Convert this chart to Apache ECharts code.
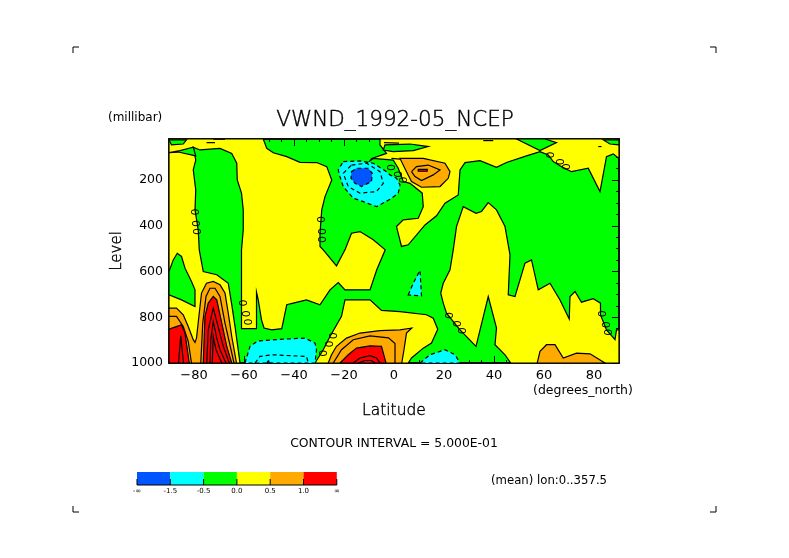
<!DOCTYPE html>
<html>
<head>
<meta charset="utf-8">
<title>VWND_1992-05_NCEP</title>
<script src="https://cdn.jsdelivr.net/npm/echarts@6/dist/echarts.min.js"></script>
<style>
html, body { margin: 0; background: #fff; }
#chart { width: 789px; height: 558px; }
</style>
</head>
<body>
<div id="chart"></div>
<script>
// contour regions, every point is [latitude, level in mb]
const yellowBands = [
    [[-90,20],[-52.3,20],[-50.9,61],[-48.3,80],[-42.9,97],[-37.6,122],[-30.9,123],[-26.9,141],[-24.9,199],[-27.6,272],[-28.9,330],[-29.6,432],[-29.6,490],[-28.3,505],[-23,575],[-19.6,505],[-17,432],[-13.6,425],[-8.3,461],[-3.5,505],[-6.9,592],[-9.6,680],[-19.6,680],[-22.3,648],[-25.6,680],[-29.6,745],[-35,724],[-40.3,738],[-42.9,745],[-44.9,850],[-48.9,855],[-52,847],[-53,811],[-54.3,724],[-55,690],[-55,850],[-61,850],[-61,505],[-60.3,418],[-60.3,330],[-61,257],[-62.7,199],[-62.9,126],[-64.9,83],[-69.6,61],[-77.6,68],[-80.3,56],[-79.3,112],[-80.3,155],[-79.3,243],[-79.6,330],[-78.3,418],[-77.9,505],[-76.3,600],[-70.9,614],[-66.3,651],[-64.9,745],[-63.6,840],[-61.6,1000],[-90,1000]],
    [[-31.6,1000],[-28.3,942],[-25.6,884],[-21,796],[-19.6,724],[-9.6,724],[-5,770],[2.4,775],[13,789],[15.7,804],[17.5,852],[15,913],[11.7,935],[7,978],[5.7,1000]],
    [[-5.6,20],[90,20],[90,105],[87.7,85],[85,97],[82.4,250],[77.7,148],[71,163],[67,141],[63.7,119],[61.7,90],[58.4,75],[53,94],[45,123],[41,144],[34.4,115],[28.4,123],[26.4,155],[25.7,265],[20.4,301],[17,356],[12.4,396],[5.7,483],[3,490],[1,403],[3.7,374],[9.7,367],[11.7,316],[11.3,257],[6.4,214],[3.7,206],[1.7,148],[-0.3,112],[-8.3,105],[-9.6,115],[-8.9,105],[-3,83],[-5.6,46]],
    [[23.7,505],[25,403],[27.7,316],[32.8,345],[35,337],[37.7,298],[41,330],[44.4,403],[46.4,527],[45.7,702],[48.4,709],[52.4,563],[55,549],[57.7,680],[62.4,651],[66.4,724],[70.1,808],[70.4,709],[72.4,687],[75,734],[79.7,719],[82.6,738],[82.6,789],[85,855],[88.4,898],[89,855],[90,855],[90,1000],[46.7,1000],[44.4,964],[40.4,920],[41,847],[37.7,709],[32.8,927],[26.4,855],[21,782],[19.7,738],[18.7,694],[19.7,651],[22.4,592]]
];
const greenBands = [
    [[-90,24],[-83,24],[-84.3,42],[-89,46]],
    [[-90,80],[-85.6,71],[-80.3,56],[-79.3,94],[-86.3,77]],
    [[-90,600],[-88.3,549],[-86.7,520],[-85,534],[-83.6,585],[-81,643],[-79.6,680],[-79.6,753],[-85,724],[-90,702]],
    [[-3.6,46],[6.4,42],[13.7,53],[7.7,71],[-0.3,75],[-4.3,68]],
    [[49,20],[58.4,71],[65,36],[60.4,20]],
    [[83.7,24],[90,24],[90,46],[86.4,42]]
];
const orangeBands = [
    [[-90,760],[-87,760],[-84.3,789],[-82.3,840],[-80.3,898],[-79.6,910],[-79,891],[-77,694],[-75,651],[-72.3,643],[-69.6,658],[-67.6,694],[-66.3,782],[-64.9,884],[-63,1000],[-90,1000]],
    [[-26.3,1000],[-25,964],[-23,927],[-19,891],[-13.6,869],[-5.6,858],[2.4,855],[7.1,847],[5,869],[4,942],[3.1,1000]],
    [[2.4,105],[5,105],[11.7,105],[20.4,126],[22.4,163],[21.7,192],[18.4,228],[11,231],[7,206],[5,163]],
    [[57.3,1000],[58.4,949],[61,920],[64.4,920],[67.7,978],[73,957],[78.4,960],[84.4,1000]]
];
const redBands = [
    [[-90,852],[-85,833],[-83.6,869],[-81.9,1000],[-90,1000]],
    [[-76.3,1000],[-75.6,796],[-74.3,738],[-72.3,709],[-70.9,724],[-69.6,789],[-66.9,927],[-64.9,1000]],
    [[-21.6,1000],[-18.3,964],[-15,935],[-9.6,925],[-5,927],[-3.2,1000]],
    [[9.7,153],[13.3,153],[13.3,161],[9.7,161]]
];
const cyanBands = [
    [[-20.3,119],[-13.6,116],[-8.3,126],[-3,163],[-1.6,177],[1,192],[2.4,221],[1.7,257],[-1.6,284],[-7,316],[-12.3,294],[-16.3,279],[-20.3,228],[-21.6,185],[-22.3,155]],
    [[-59.6,1000],[-57.6,927],[-54.3,903],[-43,895],[-35.6,891],[-31.6,913],[-31,942],[-31.6,1000]],
    [[10.4,1000],[14.4,964],[20.4,942],[24.4,964],[26.4,1000]],
    [[5.7,702],[7.7,651],[10.4,595],[11,706]]
];
const blueBands = [
    [[-17,163],[-15,148],[-10.3,148],[-8.7,170],[-9,206],[-13,228],[-15.6,214],[-17.2,192]],
    [[-50.9,1000],[-50.3,990],[-48.9,1000]]
];
// extra contour lines that sit inside a filled band
const solidContours = [
    [[-77.3,1000],[-76.5,826],[-75.2,709],[-73.6,673],[-71.6,673],[-69.6,709],[-67.6,826],[-64,1000]],
    [[-74.9,1000],[-74.3,855],[-72.3,760],[-70.7,826],[-68.3,927],[-65.9,1000]],
    [[-73.6,1000],[-73.3,898],[-72.3,818],[-70.9,891],[-69.6,942],[-67.2,1000]],
    [[-72.7,1000],[-72.3,884],[-71.2,942],[-68.9,1000]],
    [[-90,796],[-87,796],[-84.3,840],[-82.3,906],[-81,1000]],
    [[-86.2,1000],[-85.3,881],[-84.2,1000]],
    [[-24.3,1000],[-21,942],[-16.3,898],[-9.6,881],[-2.2,890],[0.4,915],[0.4,1000]],
    [[-16.3,1000],[-13.6,978],[-9.6,968],[-7,978],[-5.6,1000]],
    [[-14.3,1000],[-11.6,989],[-9,989],[-7.6,1000]],
    [[7,163],[9,141],[13.7,134],[18.4,155],[15.7,177],[11,202],[8.4,184],[7,163]],
    [[-75,36],[-71.6,36]],
    [[-72.3,21],[-67.6,21]],
    [[35.7,27],[39.7,27]],
    [[81.7,53],[83,53]],
    [[-4,36],[2,38]],
    [[-1,105],[2.4,108]]
];
const dashedContours = [
    [[-17,134],[-11,126],[-5.6,163],[-4.3,214],[-7,250],[-13.6,257],[-18.3,228],[-20.3,170],[-17,134]],
    [[-55.6,1000],[-53.6,971],[-48.3,964],[-41.6,968],[-35,971],[-34.3,1000]]
];
const zeroLabels = [
    [-79.2,339],[-78.7,390],[-78.3,425],
    [-28.7,372],[-28.5,425],[-28.3,460],
    [-59.9,738],[-58.7,785],[-57.9,821],
    [-27.9,957],[-25.6,917],[-24,881],
    [-0.7,145],[2,174],[4,199],
    [63,90],[66.7,119],[69.3,141],
    [22.4,792],[25.7,828],[27.5,859],
    [83.7,785],[85.3,833],[86.1,866]
];

const latMajor = [-80, -60, -40, -20, 0, 20, 40, 60, 80];
const levelMajor = [200, 400, 600, 800, 1000];
const latMinor = [-85, -75, -70, -65, -55, -50, -45, -35, -30, -25, -15, -10, -5, 5, 10, 15, 25, 30, 35, 45, 50, 55, 65, 70, 75, 85];
const levelMinor = [50, 100, 150, 250, 300, 350, 450, 500, 550, 650, 700, 750, 850, 900, 950];

const legendColors = ['#0055ff', '#00ffff', '#00ff00', '#ffff00', '#ffaa00', '#ff0000'];
const legendLabels = ['-\u221e', '-1.5', '-0.5', '0.0', '0.5', '1.0', '\u221e'];

const FONT = 'DejaVu Sans';
const BLUE = legendColors[0], CYAN = legendColors[1], GREEN = legendColors[2];
const YELLOW = legendColors[3], ORANGE = legendColors[4], RED = legendColors[5];

function band(rings, color, dashed) {
    return rings.map(function (ring) {
        return { ring: ring, fill: color, dashed: !!dashed };
    });
}

// paint order matters, later bands cover earlier ones. green is the grid background
const regions = [].concat(
    band(yellowBands, YELLOW),
    band(greenBands, GREEN),
    band(orangeBands, ORANGE),
    band(redBands, RED),
    band(cyanBands, CYAN, true),
    band(blueBands, BLUE, true)
);
const lines = [].concat(
    solidContours.map(function (l) { return { ring: l, dashed: false }; }),
    dashedContours.map(function (l) { return { ring: l, dashed: true }; })
);

function indexes(list) {
    return list.map(function (d, i) { return [i]; });
}

function renderRegion(params, api) {
    const r = regions[api.value(0)];
    return {
        type: 'polygon',
        shape: { points: r.ring.map(function (p) { return api.coord(p); }) },
        style: { fill: r.fill, stroke: '#000', lineWidth: 1.2, lineDash: r.dashed ? [4, 3] : null }
    };
}

function renderLine(params, api) {
    const l = lines[api.value(0)];
    return {
        type: 'polyline',
        shape: { points: l.ring.map(function (p) { return api.coord(p); }) },
        style: { fill: 'none', stroke: '#000', lineWidth: 1.2, lineDash: l.dashed ? [4, 3] : null }
    };
}

function renderZero(params, api) {
    const c = api.coord([api.value(0), api.value(1)]);
    return {
        type: 'text',
        x: c[0],
        y: c[1],
        rotation: Math.PI / 2,
        style: { text: '0', fill: '#000', font: '11px "' + FONT + '"', align: 'center', verticalAlign: 'middle' }
    };
}

function latAxis(position, values, len, extra) {
    return Object.assign({
        type: 'value',
        position: position,
        min: -90,
        max: 90,
        splitLine: { show: false },
        axisLine: { show: true, onZero: false, lineStyle: { color: '#000', width: 1.5 } },
        axisTick: { show: true, inside: true, length: len, customValues: values, lineStyle: { color: '#000' } },
        axisLabel: { show: false }
    }, extra || {});
}

function levelAxis(position, values, len, extra) {
    return Object.assign({
        type: 'value',
        position: position,
        inverse: true,
        min: 20,
        max: 1000,
        splitLine: { show: false },
        axisLine: { show: true, onZero: false, lineStyle: { color: '#000', width: 1.5 } },
        axisTick: { show: true, inside: true, length: len, customValues: values, lineStyle: { color: '#000' } },
        axisLabel: { show: false }
    }, extra || {});
}

function pageText(x, y, text, size, align) {
    return {
        type: 'text',
        x: x,
        y: y,
        style: { text: text, fill: '#000', font: size + 'px "' + FONT + '"', align: align || 'left', verticalAlign: 'middle' }
    };
}

function cropMark(x, y, dx, dy) {
    return {
        type: 'polyline',
        shape: { points: [[x + dx, y], [x, y], [x, y + dy]] },
        style: { fill: 'none', stroke: '#000', lineWidth: 1 }
    };
}

// thin black look for the bigger text
function thinText(size) {
    return { color: '#000', fontFamily: FONT, fontWeight: 'lighter', fontSize: size, textBorderColor: '#000', textBorderWidth: 0.4 };
}

// colour key under the plot
const keyLeft = 137, keyTop = 472, keyCell = 33.3, keyHeight = 13;
const keyItems = [];
legendColors.forEach(function (c, i) {
    keyItems.push({
        type: 'rect',
        shape: { x: keyLeft + i * keyCell, y: keyTop, width: keyCell, height: keyHeight },
        style: { fill: c }
    });
});
keyItems.push({
    type: 'line',
    shape: { x1: keyLeft, y1: keyTop + keyHeight, x2: keyLeft + 6 * keyCell, y2: keyTop + keyHeight },
    style: { stroke: '#000', lineWidth: 1 }
});
legendLabels.forEach(function (t, i) {
    const x = keyLeft + i * keyCell;
    keyItems.push({
        type: 'line',
        shape: { x1: x, y1: keyTop + keyHeight - 6, x2: x, y2: keyTop + keyHeight },
        style: { stroke: '#000', lineWidth: 1 }
    });
    keyItems.push(pageText(x, keyTop + 19, t, 7, 'center'));
});

const chart = echarts.init(document.getElementById('chart'), null, { renderer: 'canvas' });

chart.setOption({
    animation: false,
    backgroundColor: '#fff',
    title: {
        text: 'VWND_1992-05_NCEP',
        left: 390,
        top: 104,
        textAlign: 'center',
        textStyle: thinText(21.5)
    },
    grid: { show: true, backgroundColor: GREEN, borderWidth: 0, left: 169, right: 170, top: 139, bottom: 195 },
    xAxis: [
        latAxis('bottom', latMajor, 7, {
            name: 'Latitude',
            nameLocation: 'middle',
            nameGap: 40,
            nameMoveOverlap: false,
            nameTextStyle: thinText(15.5),
            axisLabel: {
                show: true,
                customValues: latMajor,
                color: '#000',
                fontFamily: FONT,
                fontSize: 13,
                margin: 6,
                formatter: function (v) { return String(v).replace('-', '\u2212'); }
            }
        }),
        latAxis('bottom', latMinor, 3),
        latAxis('top', latMajor, 7),
        latAxis('top', latMinor, 3)
    ],
    yAxis: [
        levelAxis('left', levelMajor, 7, {
            name: 'Level',
            nameLocation: 'middle',
            nameGap: 44,
            nameRotate: 90,
            nameMoveOverlap: false,
            nameTextStyle: thinText(15),
            axisLabel: {
                show: true,
                customValues: levelMajor,
                color: '#000',
                fontFamily: FONT,
                fontSize: 12.5,
                margin: 6,
                formatter: function (v) { return String(v); }
            }
        }),
        levelAxis('left', levelMinor, 3),
        levelAxis('right', levelMajor, 7),
        levelAxis('right', levelMinor, 3)
    ],
    series: [
        { type: 'custom', clip: true, silent: true, renderItem: renderRegion, data: indexes(regions), encode: { x: 0 }, z: 1 },
        { type: 'custom', clip: true, silent: true, renderItem: renderLine, data: indexes(lines), encode: { x: 0 }, z: 2 },
        { type: 'custom', clip: true, silent: true, renderItem: renderZero, data: zeroLabels, z: 3 }
    ],
    graphic: [
        pageText(108, 118, '(millibar)', 12),
        pageText(533, 391, '(degrees_north)', 12.5),
        pageText(394, 444, 'CONTOUR INTERVAL = 5.000E-01', 12.4, 'center'),
        pageText(491, 481, '(mean) lon:0..357.5', 11.7),
        cropMark(73, 47, 6, 6),
        cropMark(716, 47, -6, 6),
        cropMark(73, 512, 6, -6),
        cropMark(716, 512, -6, -6)
    ].concat(keyItems)
});
</script>
</body>
</html>
